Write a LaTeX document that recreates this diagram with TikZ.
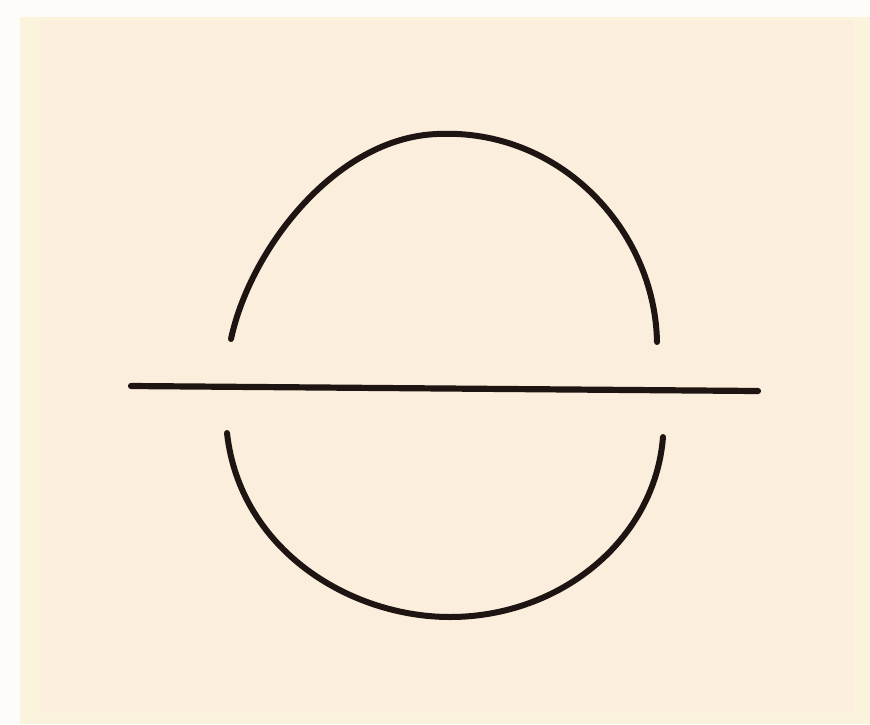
\documentclass[tikz,border=0pt]{standalone}
\usepackage{tikz}
\usepackage{xcolor}
\definecolor{paper}{HTML}{FCEEDC}
\definecolor{margin}{HTML}{FDFCF8}
\definecolor{paperedge}{HTML}{FCF3DC}
\definecolor{ink}{HTML}{1E1512}
\tikzset{
  inkline/.style={draw=ink,line width=6pt,line cap=round,line join=round},
  inkbar/.style={draw=ink,line width=6.2pt,line cap=round}
}
\begin{document}
\begin{tikzpicture}[x=1pt,y=-1pt]
  % page and card
  \fill[margin] (0,0) rectangle (870,724);
  \useasboundingbox (0,0) rectangle (870,724);
  \fill[paperedge] (20,17) rectangle (870,724);
  \fill[paper] (40,20) rectangle (853,712);

  % upper arc
  \coordinate (upL) at (231,339);
  \coordinate (upT) at (437,134);
  \coordinate (upR) at (657,342);
  \draw[inkline] (upL) .. controls (250,250) and (335,138) .. (upT)
                       .. controls (560,128) and (655,230) .. (upR);
  % lower arc
  \coordinate (loL) at (227,433);
  \coordinate (loB) at (450,617);
  \coordinate (loR) at (663,437);
  \draw[inkline] (loL) .. controls (240,550) and (350,617) .. (loB)
                       .. controls (560,617) and (655,540) .. (loR);

  % the bar
  \coordinate (barL) at (131,386);
  \coordinate (barR) at (758,391);
  \draw[inkbar] (barL) -- (barR);
\end{tikzpicture}
\end{document}
